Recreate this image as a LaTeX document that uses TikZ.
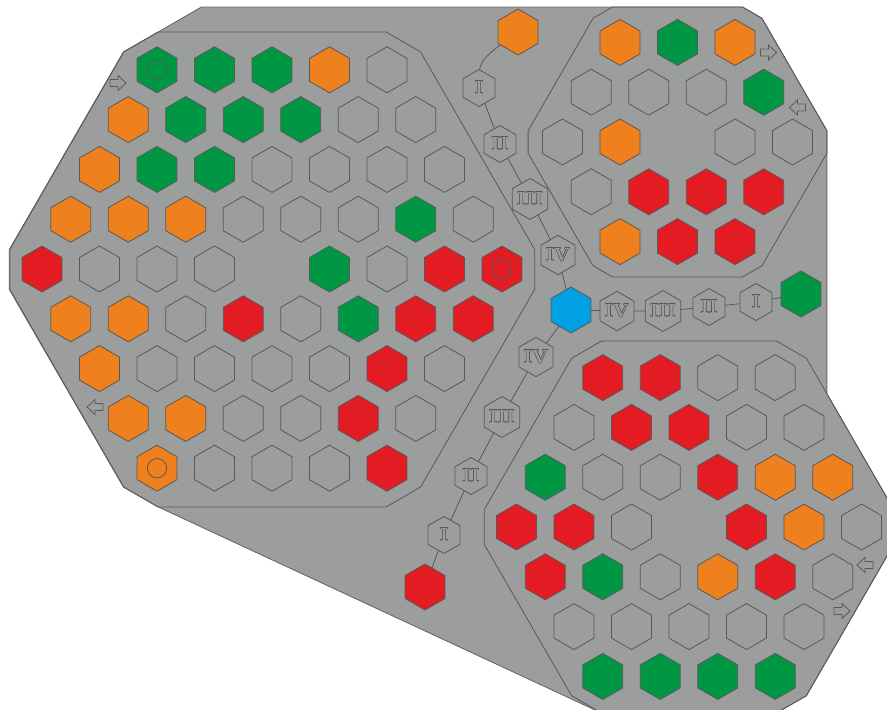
\documentclass[tikz,border=0pt]{standalone}
\usepackage{contour}
\usetikzlibrary{shapes.geometric,calc}
\definecolor{bggray}{RGB}{156,158,157}
\definecolor{hgreen}{RGB}{0,151,68}
\definecolor{horange}{RGB}{238,128,29}
\definecolor{hred}{RGB}{227,28,35}
\definecolor{hblue}{RGB}{0,160,227}
\definecolor{hline}{RGB}{88,88,88}
\definecolor{edgeline}{RGB}{105,105,105}
\contourlength{0.45pt}
\def\skipcode{x}
\newcommand\cellrow[5]{%
  \foreach \c [count=\i] in {#4}{%
    \pgfmathsetmacro\xx{#1-(#3-1)*28.75+(\i-1)*57.5}%
    \ifx\c\skipcode\else\node[cell,c\c] (#5\i) at (\xx,#2) {};\fi}}
\newcommand\boardline[5]{%
  \foreach \k in {0,...,5}{\coordinate (#1v\k) at ($(#2,#3)+(\k*60:#4)$);}
  \draw[boardedge] ($(#1v0)!#5!(#1v1)$)
    \foreach \k/\n/\m in {1/0/2,2/1/3,3/2/4,4/3/5,5/4/0}{ -- ($(#1v\k)!#5!(#1v\n)$) -- ($(#1v\k)!#5!(#1v\m)$)}
    -- ($(#1v0)!#5!(#1v5)$) -- cycle;}
\newcommand\arrowmark[3]{%
  \begin{scope}[shift={(#1,#2)},xscale=#3]
    \draw[arrowline] (-8,-3.5) -- (0,-3.5) -- (0,-7.5) -- (8,0) -- (0,7.5) -- (0,3.5) -- (-8,3.5) -- cycle;
  \end{scope}}
\begin{document}
\begin{tikzpicture}[x=1pt,y=-1pt,
  cell/.style={regular polygon,regular polygon sides=6,shape border rotate=90,
    minimum size=46pt,inner sep=0pt,outer sep=0pt,draw=hline,line width=0.8pt},
  ce/.style={},
  cg/.style={fill=hgreen},
  co/.style={fill=horange},
  cr/.style={fill=hred},
  cb/.style={fill=hblue},
  ringmark/.style={path picture={\draw[hline,line width=0.8pt] (path picture bounding box.center) circle[radius=9.7];}},
  cG/.style={fill=hgreen,ringmark},
  cO/.style={fill=horange,ringmark},
  cR/.style={fill=hred,ringmark},
  chainhex/.style={regular polygon,regular polygon sides=6,shape border rotate=90,
    minimum size=37pt,inner sep=0pt,outer sep=0pt,draw=hline,line width=0.8pt,
    fill=bggray,text=bggray,font=\fontsize{19}{19}\selectfont\bfseries},
  conn/.style={draw=hline,line width=0.8pt},
  boardedge/.style={draw=hline,line width=0.8pt},
  arrowline/.style={draw=hline,line width=0.8pt,line join=miter}]
\useasboundingbox (0,0) rectangle (887,710);
\clip (0,0) rectangle (887,710);
% outer plate
\filldraw[fill=bggray,draw=edgeline,line width=0.9pt]
  (201.5,7) -- (742.4,7) -- (761.9,18.3) -- (826.9,130.7) -- (826.9,393.8)
  -- (893.8,509.7) -- (893.8,544.3) -- (806.4,695.7) -- (776.4,713) -- (601.6,713)
  -- (158.4,507) -- (123.9,487.1) -- (9.8,289.4) -- (9.8,249.6) -- (123.9,51.9) -- cycle;
% board outlines
\boardline{L}{272}{269.5}{274.2}{23pt}
\boardline{T}{677.5}{142}{155.9}{13pt}
\boardline{B}{689}{527}{214.8}{20pt}
% left board
\cellrow{272}{69.8}{5}{G,g,g,o,e}{La}
\cellrow{272}{119.6}{6}{o,g,g,g,e,e}{Lb}
\cellrow{272}{169.4}{7}{o,g,g,e,e,e,e}{Lc}
\cellrow{272}{219.2}{8}{o,o,o,e,e,e,g,e}{Ld}
\cellrow{272}{269}{9}{r,e,e,e,x,g,e,r,R}{Le}
\cellrow{272}{318.8}{8}{o,o,e,r,e,g,r,r}{Lf}
\cellrow{272}{368.6}{7}{o,e,e,e,e,r,e}{Lg}
\cellrow{272}{418.4}{6}{o,o,e,e,r,e}{Lh}
\cellrow{272}{468.2}{5}{O,e,e,e,r}{Li}
% top-right board
\cellrow{677.5}{42.4}{3}{o,g,o}{Ta}
\cellrow{677.5}{92.2}{4}{e,e,e,g}{Tb}
\cellrow{677.5}{142}{5}{e,o,x,e,e}{Tc}
\cellrow{677.5}{191.8}{4}{e,r,r,r}{Td}
\cellrow{677.5}{241.6}{3}{o,r,r}{Te}
% bottom-right board
\cellrow{689}{377.6}{4}{r,r,e,e}{Ba}
\cellrow{689}{427.4}{5}{e,r,r,e,e}{Bb}
\cellrow{689}{477.2}{6}{g,e,e,r,o,o}{Bc}
\cellrow{689}{527}{7}{r,r,e,x,r,o,e}{Bd}
\cellrow{689}{576.8}{6}{r,g,e,o,r,e}{Be}
\cellrow{689}{626.6}{5}{e,e,e,e,e}{Bf}
\cellrow{689}{676.4}{4}{g,g,g,g}{Bg}
% chain end cells
\node[cell,cb] (blue) at (571,310) {};
\node[cell,co] (topend) at (518,32) {};
\node[cell,cg] (rightend) at (801,294) {};
\node[cell,cr] (lowend) at (425,587) {};
% chain markers
\node[chainhex] (t1) at (479,88) {\contour{hline}{I}};
\node[chainhex] (t2) at (500,144) {\contour{hline}{II}};
\node[chainhex] (t3) at (530,199) {\contour{hline}{III}};
\node[chainhex] (t4) at (558,255) {\contour{hline}{IV}};
\node[chainhex] (h4) at (617,311) {\contour{hline}{IV}};
\node[chainhex] (h3) at (663,311) {\contour{hline}{III}};
\node[chainhex] (h2) at (709,307) {\contour{hline}{II}};
\node[chainhex] (h1) at (756,302) {\contour{hline}{I}};
\node[chainhex] (d4) at (536,357) {\contour{hline}{IV}};
\node[chainhex] (d3) at (502,417) {\contour{hline}{III}};
\node[chainhex] (d2) at (471,476) {\contour{hline}{II}};
\node[chainhex] (d1) at (444,535) {\contour{hline}{I}};
% connectors
\draw[conn] (topend) .. controls (488,54) and (480,62) .. (t1);
\draw[conn] (t1) -- (t2);
\draw[conn] (t2) -- (t3);
\draw[conn] (t3) -- (t4);
\draw[conn] (t4) -- (blue);
\draw[conn] (blue) -- (h4);
\draw[conn] (h4) -- (h3);
\draw[conn] (h3) -- (h2);
\draw[conn] (h2) -- (h1);
\draw[conn] (h1) -- (rightend);
\draw[conn] (blue) -- (d4);
\draw[conn] (d4) -- (d3);
\draw[conn] (d3) -- (d2);
\draw[conn] (d2) -- (d1);
\draw[conn] (d1) -- (lowend);
% direction arrows
\arrowmark{118}{83}{1}
\arrowmark{95}{407}{-1}
\arrowmark{768.5}{52.5}{1}
\arrowmark{797.5}{107.5}{-1}
\arrowmark{865}{565}{-1}
\arrowmark{842}{611}{1}
\end{tikzpicture}
\end{document}
